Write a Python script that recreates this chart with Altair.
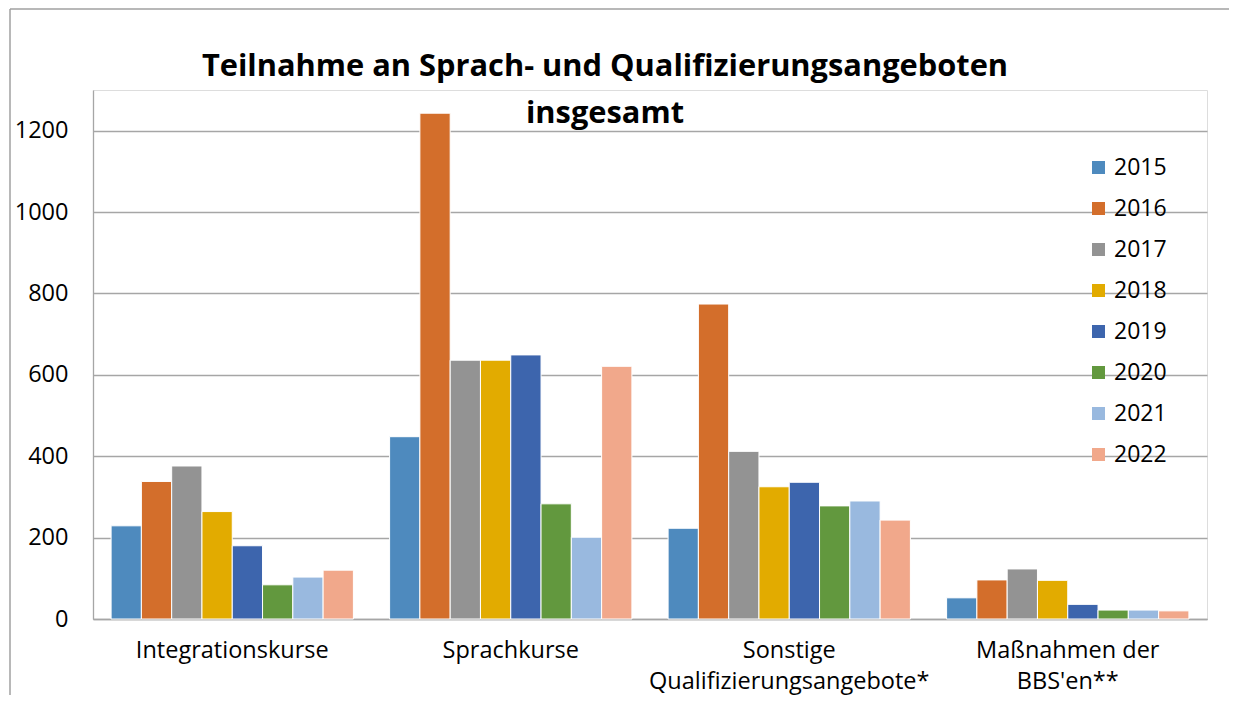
import altair as alt
import pandas as pd

categories = ["Integrationskurse", "Sprachkurse", "Sonstige\nQualifizierungsangebote*", "Maßnahmen der\nBBS'en**"]
years = ["2015", "2016", "2017", "2018", "2019", "2020", "2021", "2022"]
integrationskurse = [229, 338, 376, 264, 180, 84, 103, 120]
sprachkurse = [448, 1243, 636, 636, 649, 283, 201, 621]
sonstige = [223, 774, 412, 325, 336, 278, 290, 243]
bbs = [52, 96, 123, 95, 36, 22, 22, 20]
colors = ["#4e8abe", "#d36e2b", "#939393", "#e2ab00", "#3d65ad", "#62983e", "#99b9df", "#f1a88b"]
y_ticks = [0, 200, 400, 600, 800, 1000, 1200]
title_lines = ["Teilnahme an Sprach- und Qualifizierungsangeboten", "insgesamt"]

series = [integrationskurse, sprachkurse, sonstige, bbs]
rows = []
for cat, vals in zip(categories, series):
    for yr, v in zip(years, vals):
        rows.append({"Kategorie": cat, "Jahr": yr, "Wert": v})
df = pd.DataFrame(rows)

FONT = "Open Sans"
GRID = "#a6a6a6"

bars = alt.Chart(df).mark_bar(stroke="white", strokeWidth=1).encode(
    x=alt.X(
        "Kategorie:N",
        sort=categories,
        scale=alt.Scale(paddingInner=0.13, paddingOuter=0.065),
        axis=alt.Axis(
            title=None,
            labelAngle=0,
            labelExpr="split(datum.label, '\\n')",
            labelFontSize=23.5,
            labelFont=FONT,
            labelColor="#000000",
            labelLineHeight=31,
            labelPadding=19,
            labelBaseline="top",
            labelLimit=0,
            ticks=False,
            domainColor=GRID,
            domainWidth=1.5,
        ),
    ),
    xOffset=alt.XOffset("Jahr:N", sort=years, scale=alt.Scale(paddingInner=0, paddingOuter=0)),
    y=alt.Y(
        "Wert:Q",
        scale=alt.Scale(domain=[0, 1300], nice=False),
        axis=alt.Axis(
            title=None,
            values=y_ticks,
            format="d",
            ticks=False,
            labelFontSize=23.5,
            labelFont=FONT,
            labelColor="#000000",
            labelPadding=25,
            grid=True,
            gridColor=GRID,
            gridWidth=1.3,
            domainColor=GRID,
            domainWidth=1.3,
        ),
    ),
    color=alt.Color(
        "Jahr:N",
        sort=years,
        scale=alt.Scale(domain=years, range=colors),
        legend=alt.Legend(
            title=None,
            orient="none",
            legendX=994,
            legendY=66,
            symbolType="square",
            symbolSize=169,
            symbolStrokeWidth=0,
            labelFontSize=23,
            labelFont=FONT,
            labelColor="#000000",
            labelOffset=4,
            rowPadding=17,
            padding=0,
        ),
    ),
)

frame_top = alt.Chart(pd.DataFrame({"a": [0]})).mark_rule(color="#a0a0a0", strokeWidth=1.5).encode(
    x=alt.value(-83), x2=alt.value(1136), y=alt.value(-81)
)
frame_left = alt.Chart(pd.DataFrame({"a": [0]})).mark_rule(color="#a0a0a0", strokeWidth=1.5).encode(
    x=alt.value(-83), y=alt.value(-81), y2=alt.value(620)
)

chart = alt.layer(frame_top, frame_left, bars).properties(
    width=1114,
    height=529,
    autosize=alt.AutoSizeParams(type="none"),
    padding={"left": 85, "top": 82, "right": 24, "bottom": 76},
    title=alt.TitleParams(
        text=title_lines,
        font=FONT,
        fontSize=30.8,
        fontWeight="bold",
        color="#000000",
        anchor="middle",
        frame="group",
        dx=-45,
        dy=92,
        lineHeight=47,
        offset=-30,
    ),
).configure_view(stroke=None).configure(background="white")

chart.save("out.html", embed_options={"renderer": "svg", "actions": False})
